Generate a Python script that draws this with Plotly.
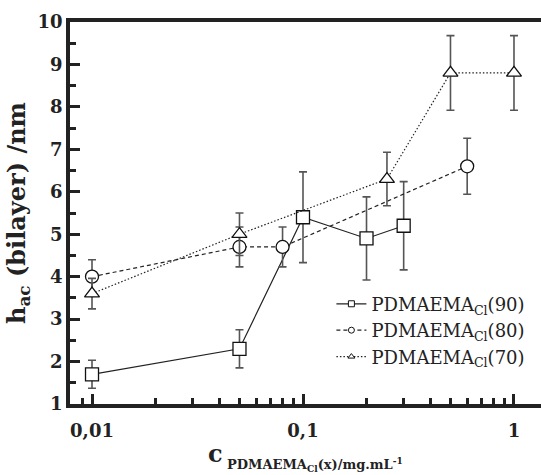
import plotly.graph_objects as go

# ---- data ----
x90 = [0.01, 0.05, 0.1, 0.2, 0.3]
y90 = [1.7, 2.3, 5.4, 4.9, 5.2]
e90 = [0.33, 0.45, 1.07, 0.98, 1.04]

x80 = [0.01, 0.05, 0.08, 0.6]
y80 = [4.0, 4.7, 4.7, 6.6]
e80 = [0.4, 0.47, 0.47, 0.66]

x70 = [0.01, 0.05, 0.25, 0.5, 1.0]
y70 = [3.6, 5.0, 6.3, 8.8, 8.8]
e70 = [0.36, 0.5, 0.63, 0.88, 0.88]

xtick_vals = [0.01, 0.1, 1]
xtick_text = ["0,01", "0,1", "1"]
xminor_vals = [0.009] + [k / 100 for k in range(2, 10)] + [k / 10 for k in range(2, 10)]
ytick_vals = [1, 2, 3, 4, 5, 6, 7, 8, 9, 10]

names = ["PDMAEMA<sub>Cl</sub>(90)", "PDMAEMA<sub>Cl</sub>(80)", "PDMAEMA<sub>Cl</sub>(70)"]

FONT = "DejaVu Serif"

fig = go.Figure()
series = [
    (x90, y90, e90, "square", "solid", names[0]),
    (x80, y80, e80, "circle", "4px,3px", names[1]),
    (x70, y70, e70, "triangle-up", "1.5px,2px", names[2]),
]
for xs, ys, es, sym, dash, nm in series:
    fig.add_trace(go.Scatter(
        x=xs, y=ys, name=nm, mode="lines+markers", showlegend=False,
        line=dict(color="#222", width=1.2, dash=dash),
        marker=dict(symbol=sym, size=13, color="white",
                    line=dict(color="#111", width=1.3)),
        error_y=dict(type="data", array=es, visible=True,
                     color="#555", thickness=1.6, width=4),
    ))
for xs, ys, es, sym, dash, nm in series:
    fig.add_trace(go.Scatter(
        x=[None], y=[None], name=nm, mode="lines+markers",
        line=dict(color="#222", width=1.2, dash=dash),
        marker=dict(symbol=sym, size=6, color="white",
                    line=dict(color="#111", width=1)),
    ))

fig.update_layout(
    width=541, height=475,
    margin=dict(l=70, r=0, t=22, b=71),
    paper_bgcolor="white", plot_bgcolor="white",
    showlegend=True,
    legend=dict(x=0.555, y=0.31, xanchor="left", yanchor="top",
                font=dict(family=FONT, size=18, color="#222"),
                bgcolor="rgba(0,0,0,0)", itemwidth=30, tracegroupgap=0),
    font=dict(family=FONT, color="#222"),
)

fig.update_xaxes(
    type="log", range=[-2.1043, 0.128],
    tickmode="array", tickvals=xtick_vals, ticktext=xtick_text,
    tickfont=dict(family=FONT, size=18, color="#222", weight="bold"),
    ticklabelstandoff=8,
    ticks="inside", ticklen=10, tickwidth=2.5, tickcolor="#222",
    minor=dict(tickmode="array", tickvals=xminor_vals, ticks="inside",
               ticklen=6, tickwidth=2.5, tickcolor="#222", showgrid=False),
    showline=True, linewidth=3.5, linecolor="#222", mirror=True,
    showgrid=False, zeroline=False,
)
fig.update_yaxes(
    range=[1, 10], tickvals=ytick_vals,
    tickfont=dict(family=FONT, size=18, color="#222", weight="bold"),
    ticks="inside", ticklen=10, tickwidth=2.5, tickcolor="#222",
    minor=dict(ticks="inside", ticklen=6, tickwidth=2.5, tickcolor="#222", dtick=0.5, showgrid=False),
    showline=True, linewidth=3.5, linecolor="#222",
    showgrid=False, zeroline=False,
    title=dict(text="<b>h<sub>ac</sub> (bilayer) /nm</b>",
               font=dict(family=FONT, size=24, color="#222"), standoff=6),
)

# x axis title (c with nested subscript)
fig.add_annotation(xref="paper", yref="paper", x=0.33, y=-0.13,
                   xanchor="right", yanchor="middle", showarrow=False,
                   text="<b>c</b>", font=dict(family=FONT, size=24, color="#222"))
fig.add_annotation(xref="paper", yref="paper", x=0.33, y=-0.158,
                   xanchor="left", yanchor="middle", showarrow=False,
                   text="<b>PDMAEMA<sub>Cl</sub>(x)/mg.mL<sup>-1</sup></b>",
                   font=dict(family=FONT, size=13, color="#222"))

fig.write_html("out.html")
